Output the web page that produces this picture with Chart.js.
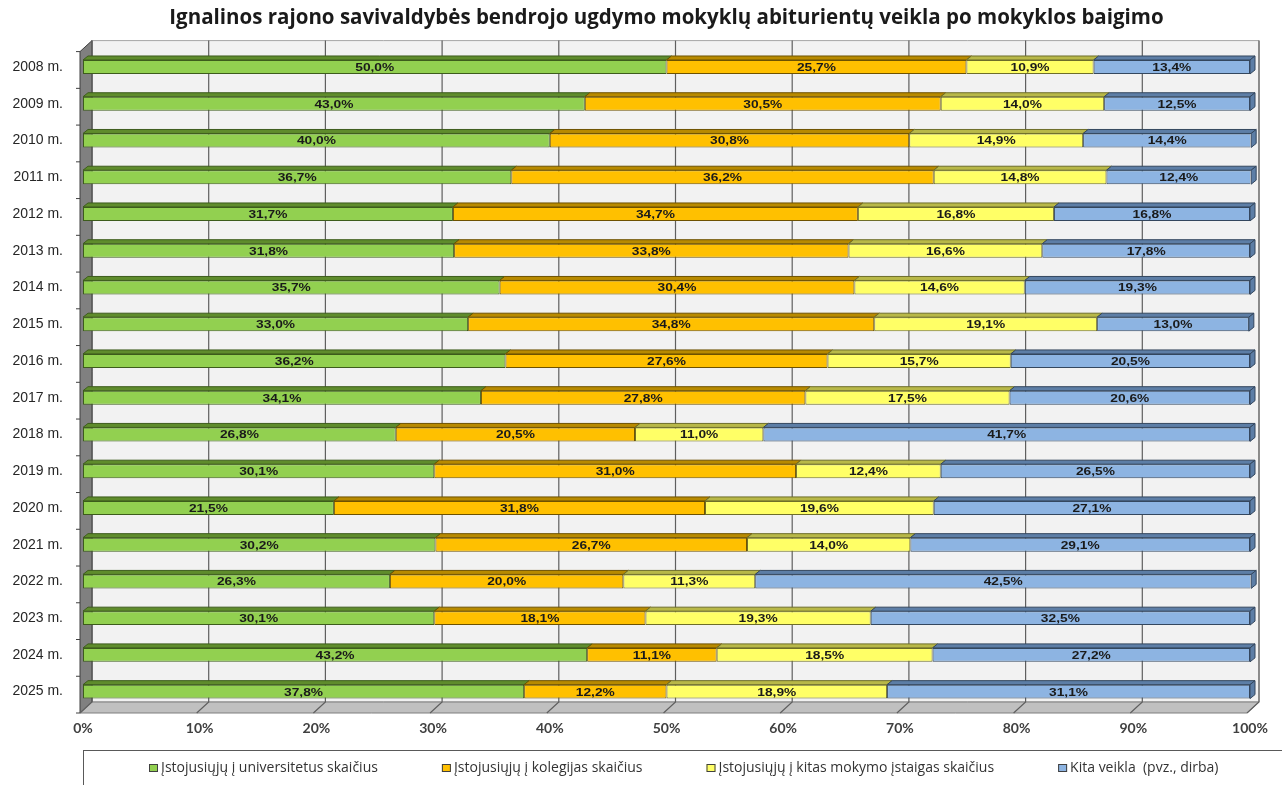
<!DOCTYPE html>
<html>
<head>
<meta charset="utf-8">
<title>Abiturientų veikla</title>
<script src="https://cdn.jsdelivr.net/npm/chart.js@4.4.1/dist/chart.umd.min.js"></script>
<style>
  html, body { margin: 0; padding: 0; background: #fff; }
  #wrap { width: 1282px; height: 785px; position: relative; }
</style>
</head>
<body>
<div id="wrap"><canvas id="chart"></canvas></div>
<script>
'use strict';

// data
var years = ['2008 m.', '2009 m.', '2010 m.', '2011 m.', '2012 m.', '2013 m.', '2014 m.', '2015 m.', '2016 m.',
  '2017 m.', '2018 m.', '2019 m.', '2020 m.', '2021 m.', '2022 m.', '2023 m.', '2024 m.', '2025 m.'];
var universitetai = [50.0, 43.0, 40.0, 36.7, 31.7, 31.8, 35.7, 33.0, 36.2, 34.1, 26.8, 30.1, 21.5, 30.2, 26.3, 30.1, 43.2, 37.8];
var kolegijos = [25.7, 30.5, 30.8, 36.2, 34.7, 33.8, 30.4, 34.8, 27.6, 27.8, 20.5, 31.0, 31.8, 26.7, 20.0, 18.1, 11.1, 12.2];
var kitosIstaigos = [10.9, 14.0, 14.9, 14.8, 16.8, 16.6, 14.6, 19.1, 15.7, 17.5, 11.0, 12.4, 19.6, 14.0, 11.3, 19.3, 18.5, 18.9];
var kitaVeikla = [13.4, 12.5, 14.4, 12.4, 16.8, 17.8, 19.3, 13.0, 20.5, 20.6, 41.7, 26.5, 27.1, 29.1, 42.5, 32.5, 27.2, 31.1];
var xTicks = [0, 10, 20, 30, 40, 50, 60, 70, 80, 90, 100];
var seriesNames = [
  'Įstojusiųjų į universitetus skaičius',
  'Įstojusiųjų į kolegijas skaičius',
  'Įstojusiųjų į kitas mokymo įstaigas skaičius',
  'Kita veikla  (pvz., dirba)'
];
var title = 'Ignalinos rajono savivaldybės bendrojo ugdymo mokyklų abiturientų veikla po mokyklos baigimo';

var frontColors = ['#92d050', '#ffc000', '#ffff66', '#8db4e2'];
var topColors = ['#5f8c2c', '#b88a00', '#b8b848', '#5d7ea6'];
var edgeColors = ['#3d5c1c', '#6e5200', '#6e6e2a', '#34475e'];

// pseudo 3D offsets (relative to the plane the bars are drawn in)
var FRONT = { x: -3, y: 3 };
var BACK = { x: 9, y: -8 };
var BAR = { x: 5, y: -4 };

function poly (ctx, pts, fill, stroke) {
  ctx.beginPath();
  ctx.moveTo(pts[0][0], pts[0][1]);
  for (var i = 1; i < pts.length; i++) ctx.lineTo(pts[i][0], pts[i][1]);
  ctx.closePath();
  if (fill) { ctx.fillStyle = fill; ctx.fill(); }
  if (stroke) { ctx.strokeStyle = stroke; ctx.stroke(); }
}

function fmt (v) {
  return v.toFixed(1).replace('.', ',') + '%';
}

var walls = {
  id: 'walls',
  beforeDatasetsDraw: function (chart) {
    var ctx = chart.ctx;
    var a = chart.chartArea;
    var xs = chart.scales.x;
    var ys = chart.scales.y;
    var fl = a.left + FRONT.x, fr = a.right + FRONT.x, fb = a.bottom + FRONT.y, ft = a.top + FRONT.y;
    var bl = a.left + BACK.x, br = a.right + BACK.x, bb = a.bottom + BACK.y, bt = a.top + BACK.y;
    ctx.save();
    ctx.lineWidth = 1;
    // back wall
    poly(ctx, [[bl, bt], [br, bt], [br, bb], [bl, bb]], '#f2f2f2', '#a6a6a6');
    // left wall and floor
    poly(ctx, [[fl, ft], [bl, bt], [bl, bb], [fl, fb]], '#808080', '#3f3f3f');
    poly(ctx, [[fl, fb], [bl, bb], [br, bb], [fr, fb]], '#c0c0c0', '#7f7f7f');
    // grid lines on back wall and floor
    ctx.strokeStyle = '#5f5f5f';
    ctx.lineWidth = 1.2;
    xTicks.forEach(function (v) {
      var px = xs.getPixelForValue(v);
      ctx.beginPath();
      ctx.moveTo(px + BACK.x, bt);
      ctx.lineTo(px + BACK.x, bb);
      ctx.lineTo(px + FRONT.x, fb);
      ctx.stroke();
    });
    // small ticks on the category axis
    ctx.strokeStyle = '#404040';
    ctx.lineWidth = 1;
    for (var i = 0; i <= years.length; i++) {
      var py = (i < years.length ? ys.getPixelForValue(i) - ys.height / years.length / 2 : a.bottom) + FRONT.y;
      ctx.beginPath();
      ctx.moveTo(fl - 4, py);
      ctx.lineTo(fl, py);
      ctx.stroke();
    }
    ctx.restore();
  },
  afterDatasetsDraw: function (chart) {
    var ctx = chart.ctx;
    var last = chart.data.datasets.length - 1;
    ctx.save();
    ctx.lineWidth = 1;
    chart.data.datasets.forEach(function (ds, i) {
      var meta = chart.getDatasetMeta(i);
      meta.data.forEach(function (bar, j) {
        var p = bar.getProps(['x', 'y', 'base', 'height'], true);
        var x0 = Math.min(p.base, p.x), x1 = Math.max(p.base, p.x);
        var top = p.y - p.height / 2, bottom = p.y + p.height / 2;
        poly(ctx, [[x0, top], [x0 + BAR.x, top + BAR.y], [x1 + BAR.x, top + BAR.y], [x1, top]], topColors[i], edgeColors[i]);
        if (i === last) {
          poly(ctx, [[x1, top], [x1 + BAR.x, top + BAR.y], [x1 + BAR.x, bottom + BAR.y], [x1, bottom]], topColors[i], edgeColors[i]);
        }
      });
    });
    // value labels
    ctx.font = 'bold 11px "Liberation Sans", Arial, sans-serif';
    ctx.fillStyle = '#1a1a1a';
    ctx.textAlign = 'center';
    ctx.textBaseline = 'middle';
    chart.data.datasets.forEach(function (ds, i) {
      var meta = chart.getDatasetMeta(i);
      meta.data.forEach(function (bar, j) {
        var p = bar.getProps(['x', 'y', 'base'], true);
        ctx.save();
        ctx.translate((p.x + p.base) / 2, p.y + 1);
        ctx.scale(1.25, 1);
        ctx.fillText(fmt(ds.data[j]), 0, 0);
        ctx.restore();
      });
    });
    ctx.restore();
  }
};

var legendBox = {
  id: 'legendBox',
  afterDraw: function (chart) {
    var ctx = chart.ctx;
    var a = chart.chartArea;
    var boxTop = 750, cy = 768;
    ctx.save();
    ctx.strokeStyle = '#595959';
    ctx.lineWidth = 1;
    ctx.strokeRect(a.left + 0.5, boxTop + 0.5, chart.width, 60);
    ctx.font = '14px "Open Sans", Lato, sans-serif';
    ctx.textBaseline = 'middle';
    ctx.textAlign = 'left';
    var x = a.left + 66;
    chart.data.datasets.forEach(function (ds, i) {
      ctx.fillStyle = frontColors[i];
      ctx.fillRect(x, cy - 4, 9, 8);
      ctx.strokeStyle = '#404040';
      ctx.strokeRect(x + 0.5, cy - 3.5, 8, 7);
      ctx.fillStyle = '#333333';
      ctx.fillText(ds.label, x + 12, cy);
      x += 12 + ctx.measureText(ds.label).width + 64;
    });
    ctx.restore();
  }
};

var datasets = [universitetai, kolegijos, kitosIstaigos, kitaVeikla].map(function (values, i) {
  return {
    label: seriesNames[i],
    data: values,
    backgroundColor: frontColors[i],
    borderColor: edgeColors[i],
    borderWidth: 1,
    borderSkipped: false,
    barPercentage: 0.38,
    categoryPercentage: 1
  };
});

var chart = new Chart(document.getElementById('chart'), {
  type: 'bar',
  data: { labels: years, datasets: datasets },
  options: {
    indexAxis: 'y',
    responsive: true,
    maintainAspectRatio: false,
    animation: false,
    layout: { padding: { left: 0, right: 32, top: 0, bottom: 0 } },
    plugins: {
      legend: { display: false },
      tooltip: { enabled: false },
      title: {
        display: true,
        text: title,
        fullSize: false,
        color: '#1a1a1a',
        font: { family: '"Open Sans"', size: 20.5, weight: 'bold' },
        padding: { top: 6, bottom: 18 }
      }
    },
    scales: {
      x: {
        stacked: true,
        min: 0,
        max: 100,
        grid: { display: false, drawTicks: false },
        border: { display: false },
        afterFit: function (scale) { scale.height = 75; },
        ticks: {
          stepSize: 10,
          padding: 10,
          maxRotation: 0,
          color: '#404040',
          font: { family: 'Lato', size: 14, weight: 'bold' },
          callback: function (v) { return v + '%'; }
        }
      },
      y: {
        stacked: true,
        grid: { display: false, drawTicks: false },
        border: { display: false },
        afterFit: function (scale) { scale.width = 83; },
        ticks: {
          padding: 20,
          color: '#262626',
          font: { family: '"Liberation Sans", Arial', size: 14 }
        }
      }
    }
  },
  plugins: [walls, legendBox]
});
</script>
</body>
</html>
